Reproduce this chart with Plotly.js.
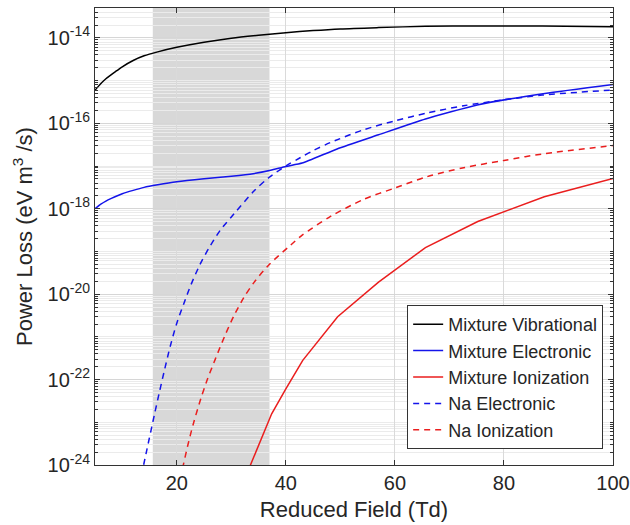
<!DOCTYPE html>
<html>
<head>
<meta charset="utf-8">
<script src="https://cdn.plot.ly/plotly-3.0.1.min.js"></script>
<style>
  html, body { margin: 0; padding: 0; background: #fff; }
  #chart { width: 630px; height: 525px; }
</style>
</head>
<body>
<div id="chart"></div>
<script>
// Power-loss rate coefficients (eV m^3/s) versus reduced field E/N (Td)

// Mixture, vibrational excitation
const vibField = [5, 6, 7, 8, 9, 10, 12, 14, 16.5, 20, 25, 30, 35, 40, 45, 50, 57, 65.6, 75, 87, 100];
const vibLoss = [5.9e-16, 8.3e-16, 1.1e-15, 1.38e-15, 1.7e-15, 2.1e-15, 2.95e-15, 3.8e-15, 4.7e-15, 6.0e-15,
                 7.9e-15, 9.8e-15, 1.15e-14, 1.32e-14, 1.48e-14, 1.62e-14, 1.74e-14, 1.86e-14, 1.9e-14, 1.9e-14, 1.82e-14];

// Mixture, electronic excitation
const elecField = [5, 6, 7, 8, 10, 12, 14, 16.5, 20, 25, 30, 34, 37.2, 40, 43, 49.4, 57, 65.6, 75.1, 87.5, 100];
const elecLoss = [1.0e-18, 1.26e-18, 1.51e-18, 1.74e-18, 2.24e-18, 2.69e-18, 3.16e-18, 3.63e-18, 4.27e-18, 5.01e-18,
                  5.75e-18, 6.61e-18, 7.94e-18, 9.77e-18, 1.17e-17, 2.51e-17, 5.37e-17, 1.26e-16, 2.69e-16,
                  5.01e-16, 8.13e-16];

// Mixture, ionization
const ionField = [32.7, 37.4, 40, 43.1, 49.5, 57.0, 65.6, 75.2, 87.4, 100];
const ionLoss = [5.62e-25, 1.58e-23, 6.03e-23, 2.82e-22, 2.95e-21, 1.91e-20, 1.23e-19, 5.01e-19, 1.91e-18, 5.13e-18];

// Na, electronic excitation
const naElecField = [13.5, 14.5, 15.9, 16.8, 17.7, 18.8, 20, 21.3, 22.6, 24.2, 25.9, 28, 30.5, 34.2, 36.9, 40.1,
                     42.7, 45, 48.2, 54.3, 60.1, 65.9, 72.6, 80, 87, 100];
const naElecLoss = [5.62e-25, 2.24e-24, 1.51e-23, 5.01e-23, 1.58e-22, 6.03e-22, 2.09e-21, 6.03e-21, 1.66e-20, 4.79e-20,
                    1.20e-19, 3.16e-19, 7.59e-19, 2.63e-18, 5.37e-18, 1.02e-17, 1.58e-17, 2.29e-17, 3.55e-17, 7.08e-17,
                    1.15e-16, 1.74e-16, 2.57e-16, 3.55e-16, 4.57e-16, 6.03e-16];

// Na, ionization
const naIonField = [20.6, 21.2, 22.0, 23.0, 24.4, 25.6, 27.1, 28.8, 30.5, 32.3, 34.2, 37, 40.9, 43, 48.2, 54.3,
                    60.1, 65.9, 72.6, 80, 87, 100];
const naIonLoss = [4.68e-25, 1.0e-24, 2.82e-24, 8.91e-24, 3.55e-23, 1.0e-22, 3.09e-22, 1.05e-21, 3.16e-21, 8.32e-21,
                   1.91e-20, 5.01e-20, 1.41e-19, 2.40e-19, 6.61e-19, 1.66e-18, 3.09e-18, 5.62e-18, 9.12e-18, 1.35e-17,
                   1.91e-17, 3.02e-17];

// Highlighted field band (Td)
const shadedField = [15.6, 37.0];

// Axis ticks
const xTickVals = [20, 40, 60, 80, 100];
const xTickText = ['20', '40', '60', '80', '100'];
const yTickVals = [1e-24, 1e-22, 1e-20, 1e-18, 1e-16, 1e-14];
const yTickText = ['10<sup>-24</sup>', '10<sup>-22</sup>', '10<sup>-20</sup>', '10<sup>-18</sup>', '10<sup>-16</sup>', '10<sup>-14</sup>'];
const yTop = 5e-14;

// minor ticks: every 1..9 x 10^n that is not already a labelled tick
const yMinorVals = [];
for (let n = -24; n <= -14; n++) {
  for (let m = 1; m <= 9; m++) {
    const v = m * Math.pow(10, n);
    if (v > yTop * 1.0001) continue;
    if (m === 1 && n % 2 === 0) continue;
    yMinorVals.push(v);
  }
}

const FONT = 'Liberation Sans, Arial, Helvetica, sans-serif';
const TXT = '#262626';
const AX = '#333333';

const BLACK = '#000000';
const BLUE = '#1414ea';
const RED = '#ea1e1e';
const DASH = '6px,5px';

const traces = [
  { x: vibField, y: vibLoss, name: 'Mixture Vibrational', mode: 'lines',
    line: { color: BLACK, width: 1.5, shape: 'spline', smoothing: 0.8 } },
  { x: elecField, y: elecLoss, name: 'Mixture Electronic', mode: 'lines',
    line: { color: BLUE, width: 1.5, shape: 'spline', smoothing: 0.5 } },
  { x: ionField, y: ionLoss, name: 'Mixture Ionization', mode: 'lines',
    line: { color: RED, width: 1.5 } },
  { x: naElecField, y: naElecLoss, name: 'Na Electronic', mode: 'lines',
    line: { color: BLUE, width: 1.5, dash: DASH, shape: 'spline', smoothing: 0.8 } },
  { x: naIonField, y: naIonLoss, name: 'Na Ionization', mode: 'lines',
    line: { color: RED, width: 1.5, dash: DASH, shape: 'spline', smoothing: 0.8 } }
];

const layout = {
  width: 630,
  height: 525,
  margin: { l: 95, r: 17, t: 8, b: 60 },
  paper_bgcolor: '#ffffff',
  plot_bgcolor: '#ffffff',
  font: { family: FONT, color: TXT, size: 20 },
  showlegend: true,
  legend: {
    x: 0.981, xanchor: 'right',
    y: 0.035, yanchor: 'bottom',
    bgcolor: '#ffffff',
    bordercolor: AX,
    borderwidth: 1,
    font: { family: FONT, size: 18, color: TXT },
    tracegroupgap: 0
  },
  xaxis: {
    range: [5, 100],
    tickmode: 'array',
    tickvals: xTickVals,
    ticktext: xTickText,
    ticks: 'inside',
    ticklen: 5,
    tickcolor: AX,
    showline: true,
    linecolor: AX,
    linewidth: 1,
    mirror: 'allticks',
    zeroline: false,
    showgrid: true,
    gridcolor: '#dadada',
    tickfont: { family: FONT, size: 20, color: TXT },
    title: { text: 'Reduced Field (Td)', font: { family: FONT, size: 22, color: TXT }, standoff: 8 }
  },
  yaxis: {
    type: 'log',
    range: [-24, Math.log10(yTop)],
    tickmode: 'array',
    tickvals: yTickVals,
    ticktext: yTickText,
    ticks: 'inside',
    ticklen: 5,
    tickcolor: AX,
    showline: true,
    linecolor: AX,
    linewidth: 1,
    mirror: 'allticks',
    zeroline: false,
    showgrid: true,
    gridcolor: '#d6d6d6',
    tickfont: { family: FONT, size: 20, color: TXT },
    minor: {
      tickmode: 'array',
      tickvals: yMinorVals,
      ticks: 'inside',
      ticklen: 3,
      tickcolor: AX,
      showgrid: true,
      gridcolor: '#ebebeb'
    },
    title: { text: 'Power Loss (eV m<sup>3</sup> /s)', font: { family: FONT, size: 22, color: TXT }, standoff: 8 }
  },
  shapes: [{
    type: 'rect', xref: 'x', yref: 'paper',
    x0: shadedField[0], x1: shadedField[1], y0: 0, y1: 1,
    fillcolor: '#d8d8d8', line: { width: 0 }, layer: 'below'
  }]
};

Plotly.newPlot('chart', traces, layout, { displayModeBar: false, staticPlot: true });
</script>
</body>
</html>
